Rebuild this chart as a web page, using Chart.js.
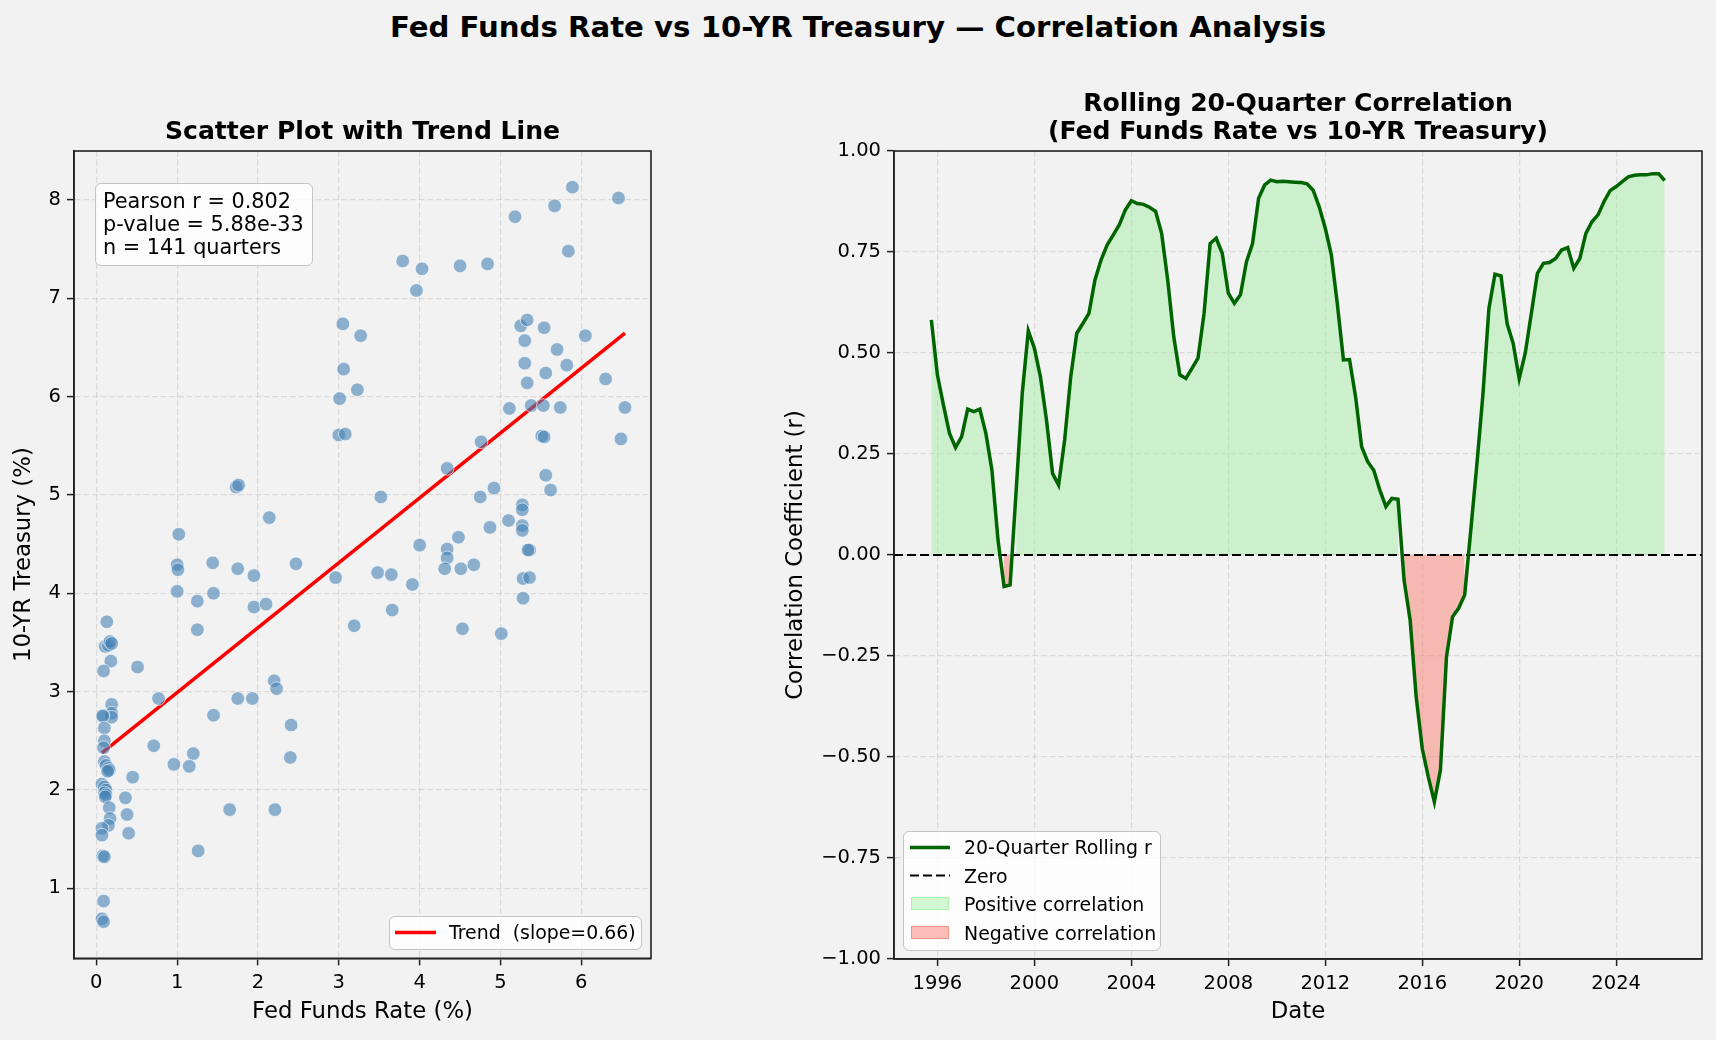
<!DOCTYPE html>
<html><head><meta charset="utf-8">
<script src="https://cdn.jsdelivr.net/npm/chart.js@4.4.1/dist/chart.umd.min.js"></script>
<style>
html,body{margin:0;padding:0;background:#f2f2f2;}
body{width:1716px;height:1040px;position:relative;overflow:hidden;font-family:"DejaVu Sans",sans-serif;color:#000;}
#sup{position:absolute;left:0;top:0;width:1716px;text-align:center;font-weight:bold;font-size:29.2px;line-height:54px;}
canvas{position:absolute;top:0;}
#c1{left:0}
#c2{left:716px}
.box{position:absolute;background:rgba(255,255,255,0.8);border:1.5px solid #c4c4c4;border-radius:6px;box-sizing:border-box;z-index:5;}
.stat{font-size:20.8px;line-height:22.8px;padding:6px 0 0 7px;white-space:pre;}
.item{position:absolute;font-size:18.9px;white-space:pre;line-height:22px;}
svg{position:absolute;overflow:visible;}
</style></head>
<body>
<div id="sup">Fed Funds Rate vs 10-YR Treasury — Correlation Analysis</div>
<canvas id="c1" width="716" height="1040"></canvas>
<canvas id="c2" width="1000" height="1040"></canvas>

<div class="box stat" style="left:95px;top:183px;width:218px;height:83px;">Pearson r = 0.802
p-value = 5.88e-33
n = 141 quarters</div>

<div class="box" style="left:389px;top:916px;width:253px;height:34px;">
  <svg style="left:5px;top:15px;" width="42" height="4"><line x1="0" y1="0.5" x2="41" y2="0.5" stroke="#ff0000" stroke-width="3.5"/></svg>
  <div class="item" style="left:59px;top:4px;">Trend  (slope=0.66)</div>
</div>

<div class="box" style="left:903px;top:831px;width:258px;height:120px;">
  <svg style="left:6px;top:15px;" width="42" height="4"><line x1="0" y1="0.5" x2="40" y2="0.5" stroke="#006400" stroke-width="3.5"/></svg>
  <div class="item" style="left:60px;top:4px;">20-Quarter Rolling r</div>
  <svg style="left:6px;top:43px;" width="42" height="4"><line x1="0" y1="0.5" x2="40" y2="0.5" stroke="#000" stroke-width="2.2" stroke-dasharray="9,4"/></svg>
  <div class="item" style="left:60px;top:33px;">Zero</div>
  <div style="position:absolute;left:7px;top:65px;width:38px;height:13px;box-sizing:border-box;background:rgba(144,238,144,0.4);border:1px solid rgba(144,238,144,0.6);"></div>
  <div class="item" style="left:60px;top:61px;">Positive correlation</div>
  <div style="position:absolute;left:7px;top:94px;width:38px;height:13px;box-sizing:border-box;background:rgba(250,128,114,0.5);border:1px solid rgba(250,128,114,0.7);"></div>
  <div class="item" style="left:60px;top:90px;">Negative correlation</div>
</div>

<script>
// ---------------- DATA ----------------
// Scatter: quarterly Fed Funds Rate (%) vs 10-YR Treasury (%)
const fedFunds = [
 3.05,3.27,3.06,3.23,3.01,3.00,3.08,1.73,1.76,2.14,1.02,3.79,4.03,3.96,4.50,4.84,5.18,5.67,5.89,6.46,
 5.84,5.25,5.33,5.54,6.05,5.30,5.70,5.30,5.82,5.56,6.30,5.33,5.11,5.38,5.53,5.74,6.54,5.51,5.54,6.49,
 4.76,4.34,5.56,5.62,4.92,4.75,3.52,5.27,5.27,5.10,4.87,5.27,5.27,4.48,4.00,4.34,4.34,4.31,4.51,4.67,
 3.48,3.65,3.91,3.66,4.53,5.01,5.36,5.34,5.28,5.36,5.28,1.00,1.01,1.44,1.75,1.95,2.47,2.96,1.00,1.45,
 1.25,1.95,2.10,3.19,1.25,2.20,2.23,0.77,1.75,1.93,1.45,2.41,0.71,1.20,0.96,1.15,2.40,0.45,0.36,0.38,
 1.65,2.21,0.40,1.26,0.51,0.13,0.11,0.15,0.17,0.19,0.18,0.09,0.19,0.19,0.19,0.08,0.08,0.10,0.10,0.09,
 0.10,0.12,0.15,0.16,0.14,0.07,0.10,0.12,0.10,0.12,0.11,0.16,0.17,0.15,0.07,0.07,0.08,0.10,0.09,0.07,
 0.09
];
const treasury10y = [
 6.74,6.62,6.28,6.07,5.98,5.61,5.62,5.08,5.10,4.77,4.60,7.38,7.30,7.08,7.33,7.35,7.83,7.94,8.13,8.02,
 7.48,6.72,6.78,6.70,6.62,6.57,6.48,6.34,6.32,6.24,6.18,6.14,5.88,5.91,5.91,5.89,5.89,5.60,5.59,5.57,
 5.54,5.27,5.20,5.05,5.07,4.98,4.98,4.90,4.85,4.74,4.67,4.69,4.64,4.57,4.49,4.45,4.36,4.25,4.25,4.29,
 4.21,4.19,4.09,3.83,3.64,3.59,4.44,4.44,4.15,4.16,3.95,4.29,4.24,4.31,4.25,4.18,4.30,4.16,4.02,4.00,
 3.92,3.86,3.89,3.67,3.63,3.11,3.03,2.93,2.93,2.93,2.76,2.66,2.45,2.37,2.26,2.24,2.33,2.13,1.92,1.75,
 1.80,1.80,1.56,1.38,3.25,3.71,3.46,3.47,3.51,3.49,3.31,3.21,2.87,2.78,2.74,2.76,2.75,2.63,2.50,2.43,
 2.29,2.25,2.22,2.20,2.19,2.06,2.03,2.00,1.97,1.95,1.93,1.82,1.71,1.64,1.61,1.54,1.33,1.32,0.87,0.69,
 0.66
];
const trendSlope = 0.66;
const trendIntercept = 2.33;
const scatterXTicks = [0,1,2,3,4,5,6];
const scatterYTicks = [1,2,3,4,5,6,7,8];

// Rolling 20-quarter correlation, one value per quarter starting 1995 Q4
const rollingFirstQuarter = {year:1995, q:4};
const rollingR = [
 0.582,0.446,0.371,0.301,0.266,0.293,0.361,0.355,0.361,0.301,
 0.210,0.037,-0.078,-0.074,0.160,0.400,0.555,0.512,0.441,0.334,
 0.202,0.173,0.285,0.441,0.549,0.573,0.598,0.681,0.730,0.767,
 0.792,0.817,0.854,0.877,0.870,0.868,0.861,0.851,0.796,0.681,
 0.540,0.446,0.437,0.462,0.487,0.598,0.771,0.784,0.747,0.648,
 0.623,0.644,0.726,0.771,0.883,0.916,0.928,0.924,0.925,0.924,
 0.923,0.922,0.919,0.903,0.862,0.809,0.743,0.620,0.483,0.484,
 0.392,0.268,0.231,0.210,0.161,0.120,0.140,0.138,-0.062,-0.161,
 -0.351,-0.479,-0.549,-0.611,-0.532,-0.252,-0.153,-0.132,-0.099,0.060,
 0.222,0.395,0.610,0.695,0.691,0.573,0.524,0.437,0.500,0.598,
 0.697,0.722,0.724,0.734,0.755,0.761,0.710,0.734,0.796,0.825,
 0.842,0.875,0.902,0.912,0.924,0.936,0.940,0.941,0.941,0.944,
 0.944,0.927
];
const corrTicks = [-1,-0.75,-0.5,-0.25,0,0.25,0.5,0.75,1];
const yearTicks = [1996,2000,2004,2008,2012,2016,2020,2024];

// ---------------- BUILD ----------------
const FAMILY = '"DejaVu Sans", sans-serif';
Chart.defaults.font.family = FAMILY;
Chart.defaults.color = '#000';

const quarterDates = rollingR.map((_, i) => {
  const qi = (rollingFirstQuarter.q - 1) + i;
  return rollingFirstQuarter.year + Math.floor(qi / 4) + (qi % 4) / 4;
});

const frame = {
  id: 'frame',
  afterDatasetsDraw(chart) {
    const {ctx, chartArea: a} = chart;
    ctx.save();
    ctx.strokeStyle = '#222';
    ctx.lineWidth = 1.6;
    ctx.setLineDash([]);
    ctx.strokeRect(a.left, a.top, a.right - a.left, a.bottom - a.top);
    ctx.restore();
  }
};

function axisCommon(ticksArr, fmt) {
  return {
    type: 'linear',
    afterBuildTicks: s => { s.ticks = ticksArr.map(v => ({value: v})); },
    ticks: {font: {size: 19.5}, color: '#000', padding: 6, callback: fmt, maxRotation: 0, autoSkip: false},
    grid: {color: 'rgba(176,176,176,0.35)', lineWidth: 1.2, tickLength: 7, tickColor: '#222', tickWidth: 1.5, tickBorderDash: []},
    border: {display: true, color: '#222', width: 1.6, dash: [6, 2.6]}
  };
}

// ---- Scatter chart ----
const scatterPts = fedFunds.map((x, i) => ({x: x, y: treasury10y[i]}));
const xLo = Math.min(...fedFunds), xHi = Math.max(...fedFunds);
const trendPts = [xLo, xHi].map(x => ({x: x, y: trendIntercept + trendSlope * x}));

const sx = axisCommon(scatterXTicks, v => String(v));
sx.min = -0.276; sx.max = 6.862;
sx.afterFit = s => { s.height = 81.7; };
sx.title = {display: true, text: 'Fed Funds Rate (%)', font: {size: 22.8}, color: '#000', padding: {top: 0, bottom: 14.4}};
const sy = axisCommon(scatterYTicks, v => String(v));
sy.min = 0.288; sy.max = 8.498;
sy.afterFit = s => { s.width = 74; };
sy.title = {display: true, text: '10-YR Treasury (%)', font: {size: 22.8}, color: '#000', padding: {top: 10.3, bottom: 0}};

new Chart(document.getElementById('c1'), {
  type: 'scatter',
  data: {datasets: [
    {type: 'line', label: 'Trend  (slope=0.66)', data: trendPts, borderColor: '#ff0000', borderWidth: 3.5,
     pointRadius: 0, fill: false, tension: 0, order: 2},
    {label: 'Quarters', data: scatterPts, backgroundColor: 'rgba(70,130,180,0.6)',
     borderColor: 'rgba(255,255,255,0.6)', borderWidth: 1, pointRadius: 6.8, order: 1}
  ]},
  options: {
    responsive: false, animation: false, devicePixelRatio: 1,
    layout: {padding: {top: 0, left: 0, right: 65, bottom: 0}},
    plugins: {
      legend: {display: false}, tooltip: {enabled: false},
      title: {display: true, fullSize: false, text: 'Scatter Plot with Trend Line', color: '#000',
              font: {size: 25.1, weight: 'bold', lineHeight: 1.12}, padding: {top: 118, bottom: 4.9}}
    },
    scales: {x: sx, y: sy}
  },
  plugins: [frame]
});

// ---- Rolling correlation chart ----
const rollPts = rollingR.map((r, i) => ({x: quarterDates[i], y: r}));
const posPts = rollingR.map((r, i) => ({x: quarterDates[i], y: r >= 0 ? r : null}));
const negPts = rollingR.map((r, i) => ({x: quarterDates[i], y: r < 0 ? r : null}));
const rxMin = 1994.21, rxMax = 2027.54;

const rx = axisCommon(yearTicks, v => String(v));
rx.min = rxMin; rx.max = rxMax;
rx.afterFit = s => { s.height = 81; };
rx.title = {display: true, text: 'Date', font: {size: 22.8}, color: '#000', padding: {top: 0, bottom: 14.4}};
const ry = axisCommon(corrTicks, v => (v < 0 ? '\u2212' : '') + Math.abs(v).toFixed(2));
ry.min = -1; ry.max = 1;
ry.afterFit = s => { s.width = 178; };
ry.title = {display: true, text: 'Correlation Coefficient (r)', font: {size: 22.8}, color: '#000', padding: {top: 66.3, bottom: 0}};

new Chart(document.getElementById('c2'), {
  type: 'line',
  data: {datasets: [
    {label: '20-Quarter Rolling r', data: rollPts, borderColor: '#006400', borderWidth: 3.5,
     pointRadius: 0, fill: false, tension: 0, order: 1},
    {label: 'Zero', data: [{x: rxMin, y: 0}, {x: rxMax, y: 0}], borderColor: '#000', borderWidth: 2.2,
     borderDash: [9, 4], pointRadius: 0, fill: false, order: 2},
    {label: 'Positive correlation', data: posPts, borderColor: 'rgba(0,0,0,0)', borderWidth: 1,
     backgroundColor: 'rgba(144,238,144,0.4)', fill: 'origin', pointRadius: 0, spanGaps: false, tension: 0, order: 3},
    {label: 'Negative correlation', data: negPts, borderColor: 'rgba(0,0,0,0)', borderWidth: 1,
     backgroundColor: 'rgba(250,128,114,0.5)', fill: 'origin', pointRadius: 0, spanGaps: false, tension: 0, order: 3}
  ]},
  options: {
    responsive: false, animation: false, devicePixelRatio: 1,
    layout: {padding: {top: 0, left: 0, right: 14, bottom: 0}},
    plugins: {
      legend: {display: false}, tooltip: {enabled: false},
      title: {display: true, fullSize: false, color: '#000',
              text: ['Rolling 20-Quarter Correlation', '(Fed Funds Rate vs 10-YR Treasury)'],
              font: {size: 25.1, weight: 'bold', lineHeight: 1.12}, padding: {top: 90.5, bottom: 4.3}}
    },
    scales: {x: rx, y: ry}
  },
  plugins: [frame]
});
</script>
</body></html>
